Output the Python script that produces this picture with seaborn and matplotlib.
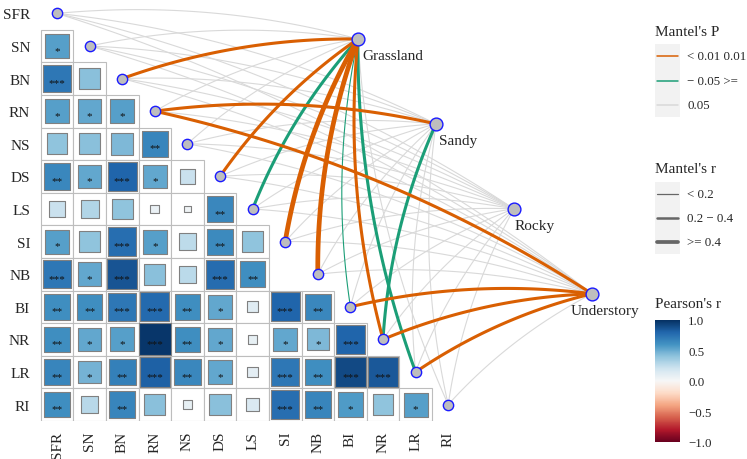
import numpy as np
import pandas as pd
import matplotlib
matplotlib.use('Agg')
import matplotlib.pyplot as plt
from matplotlib.patches import Rectangle
import seaborn as sns

variables = ['SFR', 'SN', 'BN', 'RN', 'NS', 'DS', 'LS', 'SI', 'NB', 'BI', 'NR', 'LR', 'RI']

# Pearson's r, lower triangle: one list per row (SN .. RI), columns SFR .. previous
pearson_r = [
    [0.55],
    [0.72, 0.42],
    [0.55, 0.52, 0.55],
    [0.40, 0.42, 0.45, 0.66],
    [0.65, 0.52, 0.80, 0.52, 0.22],
    [0.22, 0.30, 0.40, 0.07, 0.04, 0.65],
    [0.55, 0.40, 0.76, 0.55, 0.26, 0.64, 0.40],
    [0.72, 0.52, 0.86, 0.42, 0.27, 0.77, 0.62],
    [0.62, 0.62, 0.72, 0.78, 0.62, 0.52, 0.12, 0.80, 0.65],
    [0.62, 0.52, 0.55, 0.97, 0.62, 0.52, 0.08, 0.52, 0.45, 0.80],
    [0.66, 0.47, 0.68, 0.82, 0.65, 0.52, 0.10, 0.72, 0.62, 0.90, 0.85],
    [0.62, 0.28, 0.66, 0.42, 0.08, 0.42, 0.15, 0.76, 0.66, 0.57, 0.40, 0.55],
]
signif = [
    ['*'],
    ['***', ''],
    ['*', '*', '*'],
    ['', '', '', '**'],
    ['**', '*', '***', '*', ''],
    ['', '', '', '', '', '**'],
    ['*', '', '***', '*', '', '**', ''],
    ['***', '*', '***', '', '', '***', '**'],
    ['**', '**', '***', '***', '**', '*', '', '***', '**'],
    ['**', '*', '*', '***', '**', '*', '', '*', '*', '***'],
    ['**', '*', '**', '***', '**', '*', '', '***', '**', '***', '***'],
    ['**', '', '**', '', '', '', '', '***', '**', '*', '', '*'],
]

env_names = ['Grassland', 'Sandy', 'Rocky', 'Understory']
P1, P2, P3 = '< 0.01', '0.01 - 0.05', '>= 0.05'
R1, R2, R3 = '< 0.2', '0.2 - 0.4', '>= 0.4'
# Mantel's P / r class of each environment vs. each variable (SFR .. RI)
mantel_p = {
    'Grassland':  [P3, P3, P1, P3, P3, P1, P2, P1, P1, P2, P1, P2, P3],
    'Sandy':      [P3, P3, P3, P1, P3, P3, P3, P3, P3, P3, P2, P3, P3],
    'Rocky':      [P3] * 13,
    'Understory': [P3, P3, P3, P1, P3, P3, P3, P3, P3, P1, P1, P1, P3],
}
mantel_r = {
    'Grassland':  [R1, R1, R2, R1, R1, R2, R2, R3, R3, R1, R2, R2, R1],
    'Sandy':      [R1, R1, R1, R2, R1, R1, R1, R1, R1, R1, R2, R1, R1],
    'Rocky':      [R1] * 13,
    'Understory': [R1, R1, R1, R2, R1, R1, R1, R1, R1, R2, R2, R2, R1],
}

# ---- layout ----
W, H = 747, 460
cell = 32.6                      # pixels per cell
ax_left, ax_right, ax_top, ax_bottom = 40, 640, 0, 422
x0_px, y0_px = 57, 14.4          # pixel centre of cell (0, 0)
env_start, env_end = (9.23, 0.785), (16.41, 8.6)
label_dx = [4, 3, 1, -21]        # env label offsets (px)
curv = 0.09

sns.set_style('white')
plt.rcParams['font.family'] = ['Liberation Serif', 'DejaVu Serif']

fig = plt.figure(figsize=(W / 100, H / 100), dpi=100)
ax = fig.add_axes([ax_left / W, (H - ax_bottom) / H,
                   (ax_right - ax_left) / W, (ax_bottom - ax_top) / H])

# cells table
rows = []
for i, (rr, ss) in enumerate(zip(pearson_r, signif), start=1):
    for j, (r, s) in enumerate(zip(rr, ss)):
        rows.append({'x': j, 'y': i, 'r': r, 'absr': abs(r), 'stars': s})
cells = pd.DataFrame(rows)

# links table (quadratic curves)
n = len(variables)
env_x = np.linspace(env_start[0], env_end[0], len(env_names))
env_y = np.linspace(env_start[1], env_end[1], len(env_names))
t = np.linspace(0, 1, 60)
parts = []
lid = 0
for k, env in enumerate(env_names):
    p0 = np.array([env_x[k], env_y[k]])
    for j in range(n):
        p1 = np.array([j, j], dtype=float)
        d = p1 - p0
        c = (p0 + p1) / 2 + curv * np.array([-d[1], d[0]])
        pts = ((1 - t) ** 2)[:, None] * p0 + (2 * t * (1 - t))[:, None] * c + (t ** 2)[:, None] * p1
        parts.append(pd.DataFrame({'x': pts[:, 0], 'y': pts[:, 1], 'link': lid,
                                   'p': mantel_p[env][j], 'rc': mantel_r[env][j]}))
        lid += 1
links = pd.concat(parts, ignore_index=True)

# grid background
for _, row in cells.iterrows():
    ax.add_patch(Rectangle((row.x - 0.5, row.y - 0.5), 1, 1, facecolor='white',
                           edgecolor='#bdbdbd', lw=0.8, zorder=1))

sns.lineplot(data=links, x='x', y='y', units='link', estimator=None, sort=False,
             hue='p', hue_order=[P3, P2, P1],
             palette={P1: '#D95F02', P2: '#1B9E77', P3: '#d9d9d9'},
             size='rc', size_order=[R1, R2, R3], sizes={R1: 0.8, R2: 2.2, R3: 3.4},
             legend=False, ax=ax, zorder=2)

cell_pt = cell * 72 / 100
sns.scatterplot(data=cells, x='x', y='y', hue='r', palette='RdBu', hue_norm=(-1, 1),
                size='absr', sizes=(0, cell_pt ** 2), size_norm=(0, 1), marker='s',
                edgecolor='#808080', linewidth=0.8, legend=False, ax=ax, zorder=3)

for _, row in cells.iterrows():
    if row.stars:
        ax.text(row.x, row.y + 0.13, row.stars, ha='center', va='center',
                fontsize=8, color='#111111', zorder=4)

sns.scatterplot(x=np.arange(n), y=np.arange(n), color='#bebebe', edgecolor='#1a1aff',
                s=55, linewidth=1, ax=ax, zorder=5)
sns.scatterplot(x=env_x, y=env_y, color='#bebebe', edgecolor='#1a1aff',
                s=85, linewidth=1, ax=ax, zorder=5)
for k, env in enumerate(env_names):
    ax.annotate(env, (env_x[k], env_y[k]), xytext=(label_dx[k] * 0.72, -17 * 0.72),
                textcoords='offset points', ha='left', va='center', fontsize=11,
                annotation_clip=False)

ax.set_xlim((ax_left - x0_px) / cell, (ax_right - x0_px) / cell)
ax.set_ylim((ax_bottom - y0_px) / cell, (ax_top - y0_px) / cell)
ax.set_xticks(range(n))
ax.set_xticklabels(variables, rotation=90, fontsize=11)
ax.set_yticks(range(n))
ax.set_yticklabels(variables, fontsize=11)
ax.tick_params(length=0, pad=7)
ax.set_xlabel('')
ax.set_ylabel('')
for s in ax.spines.values():
    s.set_visible(False)

# ---- legends ----
lax = fig.add_axes([0, 0, 1, 1])
lax.set_xlim(0, W)
lax.set_ylim(H, 0)
lax.axis('off')

lax.text(655, 32, "Mantel's P", fontsize=11, va='center', ha='left')
lax.add_patch(Rectangle((655, 45), 25, 73, facecolor='#f2f2f2', edgecolor='none'))
for yy, col, lab in zip([57, 82, 106], ['#D95F02', '#1B9E77', '#d9d9d9'],
                        ['< 0.01 0.01', '\u2212 0.05 >=', '0.05']):
    lax.plot([657, 678], [yy, yy], color=col, lw=1.1)
    lax.text(687, yy, lab, fontsize=9.3, va='center', ha='left')

lax.text(655, 170, "Mantel's r", fontsize=11, va='center', ha='left')
lax.add_patch(Rectangle((655, 183), 25, 72, facecolor='#f2f2f2', edgecolor='none'))
for yy, lw, lab in zip([195, 219, 243], [0.9, 1.8, 2.7],
                       ['< 0.2', '0.2 \u2212 0.4', '>= 0.4']):
    lax.plot([657, 678], [yy, yy], color='#666666', lw=lw)
    lax.text(687, yy, lab, fontsize=9.3, va='center', ha='left')

lax.text(655, 305, "Pearson's r", fontsize=11, va='center', ha='left')
cax = fig.add_axes([655 / W, (H - 443) / H, 25 / W, 122 / H])
sm = plt.cm.ScalarMappable(norm=plt.Normalize(-1, 1), cmap='RdBu')
cb = fig.colorbar(sm, cax=cax)
cb.outline.set_visible(False)
cb.set_ticks([-1, -0.5, 0, 0.5, 1])
cb.set_ticklabels(['\u22121.0', '\u22120.5', '0.0', '0.5', '1.0'])
cax.yaxis.set_ticks_position('both')
cax.tick_params(axis='y', direction='in', color='white', length=4, width=0.6,
                labelsize=9.3, pad=6, labelright=True, labelleft=False)

fig.savefig('out.png', dpi=100)
